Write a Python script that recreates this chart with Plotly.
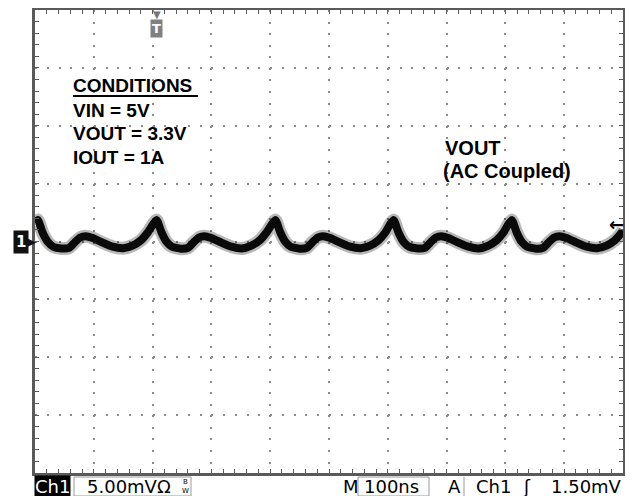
import plotly.graph_objects as go

# ---------------- data ----------------
TIME_NS = [0, 5, 13, 22, 31, 45, 58, 68, 77, 86, 98, 115, 132, 150, 166, 180, 192, 201,
           207, 215, 224, 233, 248, 260, 270, 279, 288, 300, 317, 334, 352, 368, 382, 394, 403,
           409, 417, 426, 435, 450, 462, 472, 481, 490, 502, 519, 536, 554, 570, 584, 596, 604,
           610, 618, 627, 636, 651, 663, 673, 682, 691, 703, 720, 737, 755, 771, 785, 797, 805,
           811, 819, 828, 837, 852, 864, 874, 883, 892, 904, 921, 938, 956, 972, 986, 995, 1000]
VOUT_MV = [1.65, 1.85, 0.75, -0.05, -0.45, -0.60, -0.55, -0.05, 0.35, 0.45, 0.30, -0.10, -0.45, -0.58, -0.35, 0.10, 0.80, 1.50,
           1.85, 0.80, -0.05, -0.45, -0.62, -0.55, -0.05, 0.35, 0.46, 0.30, -0.10, -0.45, -0.60, -0.35, 0.10, 0.80, 1.50,
           1.85, 0.80, -0.05, -0.45, -0.62, -0.55, -0.05, 0.35, 0.45, 0.30, -0.10, -0.45, -0.58, -0.35, 0.10, 0.80, 1.50,
           1.85, 0.80, -0.05, -0.45, -0.60, -0.55, -0.05, 0.35, 0.45, 0.30, -0.10, -0.45, -0.60, -0.35, 0.10, 0.80, 1.50,
           1.85, 0.80, -0.05, -0.45, -0.62, -0.55, -0.05, 0.35, 0.46, 0.30, -0.10, -0.45, -0.58, -0.35, 0.10, 0.60, 0.95]

X_RANGE = [0, 1000]      # 10 div x 100 ns
Y_RANGE = [-20, 20]      # 8 div x 5 mV
TRIG_TIME = 207
TRIG_LEVEL = 1.5

TITLE = "Output Ripple"
COND_LINES = ["VIN = 5V", "VOUT = 3.3V", "IOUT = 1A"]
STATUS = {"ch": "Ch1", "scale": "5.00mV\u03a9", "time": "100ns", "trig": "1.50mV"}

# ---------------- layout helpers ----------------
# the page body has an 8px default margin, so the figure is drawn 8px in from the window corner
OFF = 8
W, H = 633 - OFF, 496 - OFF
L, R, T, B = 35 - OFF, 10, 2, 23
PW, PH = W - L - R, H - T - B


def px(x):
    """window x pixel -> paper fraction"""
    return (x - OFF - L) / PW


def py(y):
    """window y pixel -> paper fraction"""
    return (H - B - (y - OFF)) / PH


fig = go.Figure()
fig.add_trace(go.Scatter(x=TIME_NS, y=VOUT_MV, mode="lines",
                         line=dict(color="rgba(0,0,0,0.28)", width=13, shape="spline", smoothing=0.5),
                         hoverinfo="skip", showlegend=False))
fig.add_trace(go.Scatter(x=TIME_NS, y=VOUT_MV, mode="lines",
                         line=dict(color="#0a0a0a", width=8, shape="spline", smoothing=0.5),
                         showlegend=False))

frame = "#5a5a5a"
gridc = "#8c8c8c"
fig.update_layout(
    width=W, height=H,
    margin=dict(l=L, r=R, t=T, b=B, pad=0, autoexpand=False),
    paper_bgcolor="white", plot_bgcolor="white",
    showlegend=False,
    xaxis=dict(range=X_RANGE, dtick=100, tick0=0, showgrid=True, gridcolor=gridc, gridwidth=2,
               griddash="2px,9.58px", zeroline=False, showticklabels=False,
               showline=True, linecolor=frame, linewidth=3, mirror="ticks",
               ticks="inside", ticklen=4, tickcolor=frame, tickwidth=1,
               minor=dict(dtick=20, tick0=0, ticks="inside", ticklen=4, tickcolor=frame, showgrid=False),
               fixedrange=True),
    yaxis=dict(range=Y_RANGE, dtick=5, tick0=0, showgrid=True, gridcolor=gridc, gridwidth=2,
               griddash="2px,9.76px", zeroline=False, showticklabels=False,
               showline=True, linecolor=frame, linewidth=3, mirror="ticks",
               ticks="inside", ticklen=4, tickcolor=frame, tickwidth=1,
               minor=dict(dtick=1, tick0=0, ticks="inside", ticklen=4, tickcolor=frame, showgrid=False),
               fixedrange=True),
    xaxis2=dict(range=X_RANGE, overlaying="x", anchor="free", position=0.5, side="bottom",
                dtick=20, tick0=0, ticks="outside", ticklen=3, tickcolor=gridc, showgrid=False,
                zeroline=False, showticklabels=False, showline=False),
    xaxis3=dict(range=X_RANGE, overlaying="x", anchor="free", position=0.5, side="top",
                dtick=20, tick0=0, ticks="outside", ticklen=3, tickcolor=gridc, showgrid=False,
                zeroline=False, showticklabels=False, showline=False),
    yaxis2=dict(range=Y_RANGE, overlaying="y", anchor="free", position=0.5, side="left",
                dtick=1, tick0=0, ticks="outside", ticklen=3, tickcolor=gridc, showgrid=False,
                zeroline=False, showticklabels=False, showline=False),
    yaxis3=dict(range=Y_RANGE, overlaying="y", anchor="free", position=0.5, side="right",
                dtick=1, tick0=0, ticks="outside", ticklen=3, tickcolor=gridc, showgrid=False,
                zeroline=False, showticklabels=False, showline=False),
)

ann = []
bold = dict(family="Liberation Sans, Arial", color="black")
# title is cut off above the screen capture (only descenders show in the source)
ann.append(dict(text="<b>%s</b>" % TITLE, xref="paper", yref="paper", x=px(190), y=py(8), xanchor="center",
                yanchor="bottom", showarrow=False, font=dict(bold, size=30)))
# conditions block
ann.append(dict(text="<b>CONDITIONS</b>", xref="paper", yref="paper", x=px(71), y=py(86),
                xanchor="left", yanchor="middle", showarrow=False, font=dict(bold, size=19)))
for i, t in enumerate(COND_LINES):
    ann.append(dict(text="<b>%s</b>" % t, xref="paper", yref="paper", x=px(71), y=py(110 + 23.5 * i),
                    xanchor="left", yanchor="middle", showarrow=False, font=dict(bold, size=19)))
ann.append(dict(text="<b>VOUT</b>", xref="paper", yref="paper", x=px(443), y=py(148),
                xanchor="left", yanchor="middle", showarrow=False, font=dict(bold, size=20)))
ann.append(dict(text="<b>(AC Coupled)</b>", xref="paper", yref="paper", x=px(441), y=py(171),
                xanchor="left", yanchor="middle", showarrow=False, font=dict(bold, size=20)))

# trigger position marker "T"
ann.append(dict(text="\u25bc", xref="x", yref="paper", x=TRIG_TIME, y=py(14), xanchor="center",
                yanchor="middle", showarrow=False, font=dict(family="DejaVu Sans", size=10, color="#777")))
ann.append(dict(text="<b>T</b>", xref="x", yref="paper", x=TRIG_TIME, y=py(28), xanchor="center",
                yanchor="middle", showarrow=False, bgcolor="#808080", borderpad=1,
                font=dict(family="DejaVu Sans", size=13, color="white")))
# channel ground marker
ann.append(dict(text="<b>1</b>", xref="paper", yref="y", x=px(21), y=0, xanchor="center",
                yanchor="middle", showarrow=False, bgcolor="#111", borderpad=2,
                font=dict(family="DejaVu Sans", size=15, color="white")))
ann.append(dict(text="\u25b6", xref="paper", yref="y", x=px(31), y=0, xanchor="center",
                yanchor="middle", showarrow=False, font=dict(family="DejaVu Sans", size=13, color="#111")))
# trigger level arrow
ann.append(dict(text="<b>\u2190</b>", xref="paper", yref="y", x=px(616), y=TRIG_LEVEL, xanchor="center",
                yanchor="middle", showarrow=False, font=dict(family="DejaVu Sans", size=18, color="black")))

# status bar
sb = dict(family="DejaVu Sans", size=18, color="black")
yb = py(486)
ann.append(dict(text=STATUS["ch"], xref="paper", yref="paper", x=px(34), y=yb, xanchor="left",
                yanchor="middle", showarrow=False, bgcolor="black", borderpad=0,
                font=dict(sb, color="white")))
ann.append(dict(text=STATUS["scale"], xref="paper", yref="paper", x=px(85), y=yb, xanchor="left",
                yanchor="middle", showarrow=False, font=sb))
ann.append(dict(text="B<br>W", xref="paper", yref="paper", x=px(180), y=yb, xanchor="left",
                yanchor="middle", showarrow=False, font=dict(sb, size=7)))
ann.append(dict(text="M", xref="paper", yref="paper", x=px(341), y=yb, xanchor="left",
                yanchor="middle", showarrow=False, font=sb))
ann.append(dict(text=STATUS["time"], xref="paper", yref="paper", x=px(362), y=yb, xanchor="left",
                yanchor="middle", showarrow=False, font=sb))
ann.append(dict(text="A", xref="paper", yref="paper", x=px(446), y=yb, xanchor="left",
                yanchor="middle", showarrow=False, font=sb))
ann.append(dict(text="Ch1", xref="paper", yref="paper", x=px(474), y=yb, xanchor="left",
                yanchor="middle", showarrow=False, font=sb))
ann.append(dict(text="\u0283", xref="paper", yref="paper", x=px(521), y=yb, xanchor="left",
                yanchor="middle", showarrow=False, font=dict(sb, family="DejaVu Sans")))
ann.append(dict(text=STATUS["trig"], xref="paper", yref="paper", x=px(624), y=yb, xanchor="right",
                yanchor="middle", showarrow=False, font=sb))
fig.update_layout(annotations=ann)

# decorative boxes / underline
shapes = [
    dict(type="line", xref="paper", yref="paper", x0=px(73), x1=px(198), y0=py(96), y1=py(96),
         line=dict(color="black", width=2)),
    dict(type="rect", xref="paper", yref="paper", x0=px(74), x1=px(191), y0=py(477), y1=py(496),
         line=dict(color="#999", width=1)),
    dict(type="rect", xref="paper", yref="paper", x0=px(358), x1=px(429), y0=py(477), y1=py(496),
         line=dict(color="#999", width=1)),
    dict(type="line", xref="paper", yref="paper", x0=px(464), x1=px(464), y0=py(477), y1=py(496),
         line=dict(color="#999", width=1)),
]
fig.update_layout(shapes=shapes)

fig.write_html("out.html")
